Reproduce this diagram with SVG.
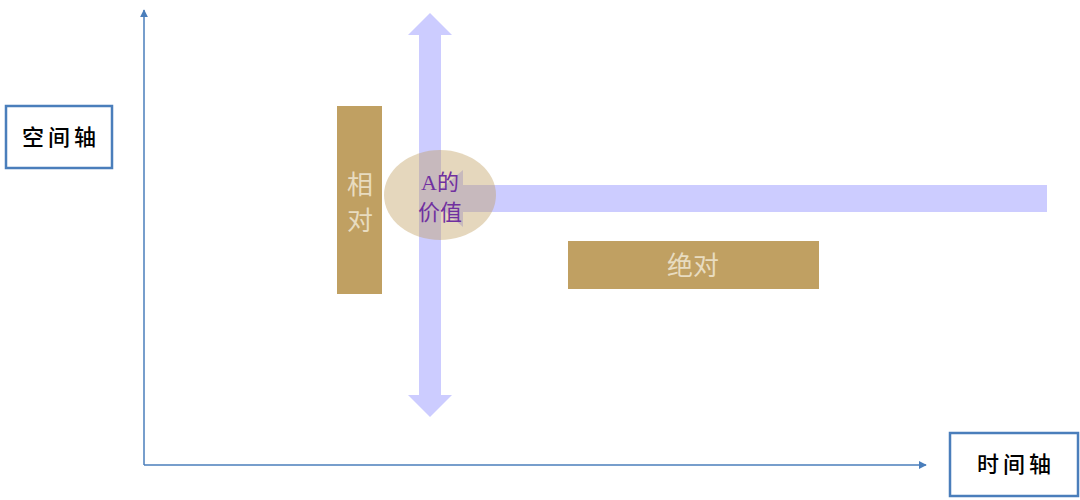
<svg xmlns="http://www.w3.org/2000/svg" width="1080" height="500" viewBox="0 0 1080 500">
<style>
.axis{stroke:#4a7ebb;stroke-width:1.5;fill:none}
.lbl{fill:#fff;stroke:#4a7ebb;stroke-width:2.5}
.lbltxt{font-family:"Noto Sans CJK SC",sans-serif;font-size:22px;font-weight:500;fill:#000;text-anchor:middle;letter-spacing:4px}
.bar{fill:#c0a062}
.bartxt{font-family:"Noto Sans CJK SC",sans-serif;font-size:26px;fill:#e8dcc0;text-anchor:middle}
.arrow{fill:#ccccff}
.atxt{font-family:"Liberation Serif","Noto Sans CJK SC",serif;font-size:22px;fill:#7030a0;text-anchor:middle}
</style>
<defs>
<marker id="ah" viewBox="0 0 10 10" refX="9" refY="5" markerWidth="8" markerHeight="8" orient="auto" markerUnits="userSpaceOnUse">
<path d="M0,0 L10,5 L0,10 Z" fill="#4a7ebb"/>
</marker>
</defs>
<g id="connectors">
<path class="axis" d="M144,465 L144,10" marker-end="url(#ah)"/>
<path class="axis" d="M144,465 L926,465" marker-end="url(#ah)"/>
<path id="vertical-arrow" class="arrow" d="M430,13 L452,35 L441,35 L441,395 L452,395 L430,417 L408,395 L419,395 L419,35 L408,35 Z"/>
<path id="horizontal-arrow" class="arrow" d="M430,198 L463,170 L463,185 L1047,185 L1047,212 L463,212 L463,227 Z"/>
</g>
<g id="space-axis-label">
<rect class="lbl" x="6" y="106" width="106" height="62"/>
<text class="lbltxt" x="61" y="145">空间轴</text>
</g>
<g id="time-axis-label">
<rect class="lbl" x="950" y="433" width="128" height="63"/>
<text class="lbltxt" x="1016" y="472">时间轴</text>
</g>
<g id="relative">
<rect class="bar" x="337" y="106" width="45" height="188"/>
<text class="bartxt" x="360" y="194">相</text>
<text class="bartxt" x="360" y="230">对</text>
</g>
<g id="absolute">
<rect class="bar" x="568" y="241" width="251" height="48"/>
<text class="bartxt" x="693" y="275">绝对</text>
</g>
<g id="value-of-a">
<ellipse cx="440" cy="195" rx="56" ry="45" fill="#c0a062" fill-opacity="0.42"/>
<text class="atxt" x="440" y="190">A的</text>
<text class="atxt" x="440" y="220">价值</text>
</g>
</svg>
